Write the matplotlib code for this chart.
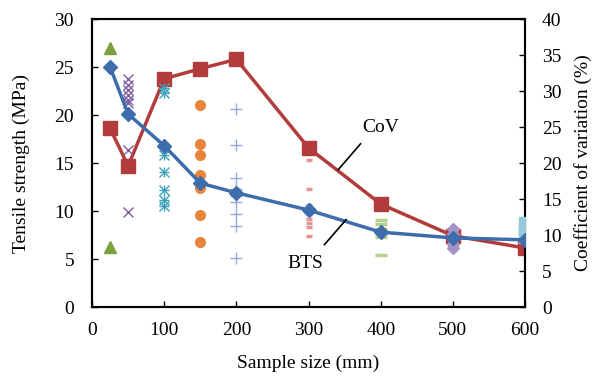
import matplotlib.pyplot as plt

plt.rcParams['font.family'] = ['Liberation Serif', 'DejaVu Serif']

# individual test results (MPa) per sample size
d25 = [27.0, 6.3]
d50 = [23.7, 23.1, 22.6, 22.1, 21.6, 21.2, 16.4, 9.9]
d100 = [22.8, 22.3, 15.8, 14.1, 12.2, 11.1, 10.5]
d150 = [21.0, 17.0, 15.8, 13.8, 12.4, 9.6, 6.8]
d200 = [20.6, 16.9, 13.4, 12.3, 11.6, 10.9, 9.7, 8.4, 5.1]
d300 = [15.3, 12.3, 10.6, 10.2, 9.7, 9.2, 8.8, 8.3, 7.4]
d400 = [9.1, 8.6, 8.1, 7.7, 7.3, 5.4]
d500 = [8.1, 7.6, 7.1, 6.6, 6.1]
d600 = [8.8, 8.3, 7.8, 7.3]

sizes = [25, 50, 100, 150, 200, 300, 400, 500, 600]
bts = [25.0, 20.1, 16.8, 12.9, 11.9, 10.1, 7.8, 7.2, 7.0]
cov = [24.8, 19.6, 31.7, 33.1, 34.4, 22.1, 14.3, 9.9, 8.2]

fig = plt.figure(figsize=(5.94, 3.8), dpi=100)
ax = fig.add_axes([0.155, 0.192, 0.729, 0.758])
ax2 = ax.twinx()

ax.plot([25] * len(d25), d25, '^', color='#7BA23F', ms=8, zorder=3)
ax.plot([50] * len(d50), d50, 'x', color='#7B5EA0', ms=7, mew=1, zorder=3)
ax.plot([100] * len(d100), d100, 'x', color='#3FA3B8', ms=7, mew=1, zorder=3)
ax.plot([100] * len(d100), d100, '+', color='#3FA3B8', ms=7, mew=1, zorder=3)
ax.plot([150] * len(d150), d150, 'o', color='#E8853B', ms=7, zorder=3)
ax.plot([200] * len(d200), d200, '+', color='#8FAADB', ms=8, mew=1, zorder=3)
ax.plot([300] * len(d300), d300, '_', color='#E39595', ms=5, mew=2.5, zorder=3)
ax.plot([400] * len(d400), d400, '_', color='#B7D08E', ms=9, mew=2.5, zorder=3)
ax.plot([500] * len(d500), d500, 'D', color='#A592C4', ms=6, zorder=3)
ax.plot([600] * len(d600), d600, 's', color='#94CAD9', ms=9, zorder=3)

ax.plot(sizes, bts, '-D', color='#3D6DAD', lw=2.5, ms=7, zorder=4)
ax2.plot(sizes, cov, '-s', color='#B23C3B', lw=2.5, ms=9.5, zorder=4)

ax.set_xlim(0, 600)
ax.set_ylim(0, 30)
ax2.set_ylim(0, 40)
ax.set_xticks(range(0, 601, 100))
ax.set_yticks(range(0, 31, 5))
ax2.set_yticks(range(0, 41, 5))

ax.set_zorder(ax2.get_zorder() + 1)
ax.patch.set_visible(False)

for a in (ax, ax2):
    a.tick_params(direction='in', labelsize=14, length=4, width=1)
    for s in a.spines.values():
        s.set_linewidth(1.5)
ax.tick_params(axis='y', pad=13)
ax.tick_params(axis='x', pad=11)
ax2.tick_params(axis='y', pad=12)

ax.set_xlabel('Sample size (mm)', fontsize=14)
ax.set_ylabel('Tensile strength (MPa)', fontsize=14)
ax2.set_ylabel('Coefficient of variation (%)', fontsize=14)
ax.xaxis.set_label_coords(0.5, -0.165)
ax.yaxis.set_label_coords(-0.143, 0.5)
ax2.yaxis.set_label_coords(1.113, 0.5)

ax.text(400, 18.7, 'CoV', fontsize=14, ha='center', va='center')
ax.plot([372, 341], [17.0, 14.3], color='black', lw=1.2, zorder=5)
ax.text(296, 4.5, 'BTS', fontsize=14, ha='center', va='center')
ax.plot([322, 352], [6.5, 9.1], color='black', lw=1.2, zorder=5)

fig.savefig('out.png', dpi=100)
